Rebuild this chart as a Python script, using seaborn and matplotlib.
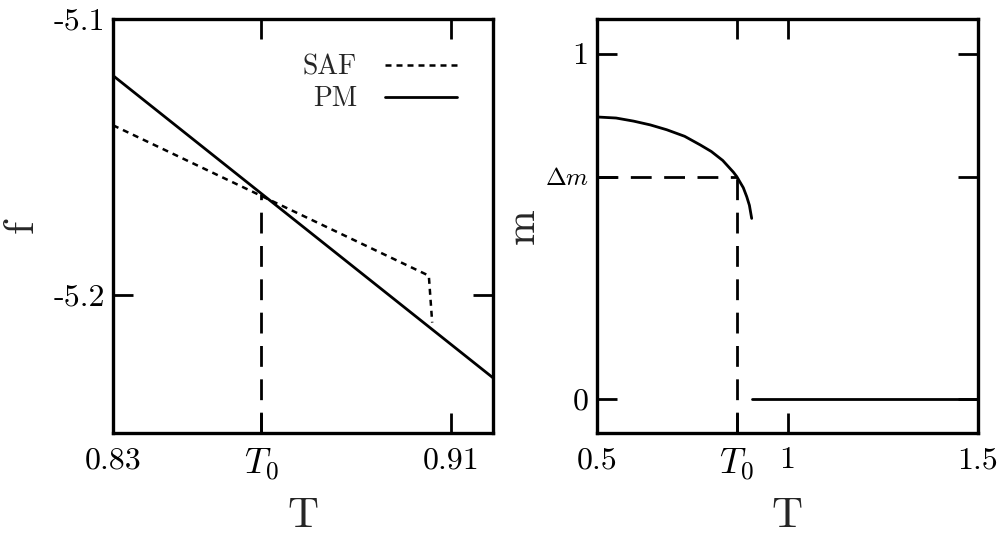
import numpy as np
import pandas as pd
import matplotlib
matplotlib.use("Agg")
import matplotlib.pyplot as plt
import seaborn as sns
from matplotlib.ticker import FixedLocator, FixedFormatter
from matplotlib.lines import Line2D

# ---------------- data ----------------
# left panel: free energy f vs T
T0_left = 0.8651
pm_T = [0.83, 0.92]
pm_f = [-5.1205, -5.2300]
saf_T = [0.83, 0.9048, 0.9056]
saf_f = [-5.1385, -5.1930, -5.2100]
left_xticks = [0.83, T0_left, 0.91]
left_xticklabels = ["0.83", "$T_0$", "0.91"]
left_yticks = [-5.1, -5.2]
left_yticklabels = ["-5.1", "-5.2"]

# right panel: magnetisation m vs T
T0_right = 0.867
dm = 0.643
m_T = [0.5, 0.55, 0.596, 0.64, 0.683, 0.73, 0.771, 0.80, 0.83, 0.858, 0.867, 0.884, 0.893, 0.900, 0.906]
m_val = [0.816, 0.813, 0.804, 0.793, 0.779, 0.760, 0.735, 0.716, 0.690, 0.656, 0.643, 0.611, 0.585, 0.560, 0.522]
zero_T = [0.906, 1.5]
zero_m = [0.0, 0.0]
right_xticks = [0.5, T0_right, 1.0, 1.5]
right_xticklabels = ["0.5", "$T_0$", "1", "1.5"]
right_yticks = [0.0, dm, 1.0]
right_yticklabels = ["0", r"$\Delta m$", "1"]

# ---------------- style ----------------
sns.set_style("white")
plt.rcParams["font.family"] = ["cmr10", "DejaVu Serif"]
plt.rcParams["mathtext.fontset"] = "cm"
plt.rcParams["axes.unicode_minus"] = False
plt.rcParams["axes.formatter.use_mathtext"] = True

fig = plt.figure(figsize=(10.05, 5.37), dpi=100)
axL = fig.add_axes([113 / 1005, 1 - 433 / 537, 380 / 1005, 414 / 537])
axR = fig.add_axes([597 / 1005, 1 - 433 / 537, 381 / 1005, 414 / 537])

LW = 2.0
dash_style = (0, (7.5, 4.5))
dot_style = (0, (2.4, 2.0))

def line(ax, x, y, **kw):
    sns.lineplot(x=x, y=y, ax=ax, color="black", estimator=None,
                 sort=False, errorbar=None, **kw)

# ---------------- left panel ----------------
ylimL = (-5.25, -5.1)
line(axL, [T0_left, T0_left], [ylimL[0], -5.1635], lw=LW, linestyle=dash_style)
line(axL, saf_T, saf_f, lw=LW * 0.9, linestyle=dot_style)
line(axL, pm_T, pm_f, lw=LW)
axL.set_xlim(0.83, 0.92)
axL.set_ylim(*ylimL)
axL.xaxis.set_major_locator(FixedLocator(left_xticks))
axL.xaxis.set_major_formatter(FixedFormatter(left_xticklabels))
axL.yaxis.set_major_locator(FixedLocator(left_yticks))
axL.yaxis.set_major_formatter(FixedFormatter(left_yticklabels))

handles = [Line2D([], [], color="black", lw=LW * 0.9, linestyle=dot_style),
           Line2D([], [], color="black", lw=LW)]
leg = axL.legend(handles, ["SAF", "PM"], loc="upper right",
                 bbox_to_anchor=(0.905, 0.915), frameon=False, markerfirst=False,
                 fontsize=20, handlelength=2.6, handletextpad=1.0,
                 borderpad=0, borderaxespad=0, labelspacing=0.2)

# ---------------- right panel ----------------
ylimR = (-0.1, 1.1)
line(axR, [0.5, T0_right], [dm, dm], lw=LW, linestyle=dash_style)
line(axR, [T0_right, T0_right], [ylimR[0], dm], lw=LW, linestyle=dash_style)
line(axR, m_T, m_val, lw=LW)
line(axR, zero_T, zero_m, lw=LW)
axR.set_xlim(0.5, 1.5)
axR.set_ylim(*ylimR)
axR.xaxis.set_major_locator(FixedLocator(right_xticks))
axR.xaxis.set_major_formatter(FixedFormatter(right_xticklabels))
axR.yaxis.set_major_locator(FixedLocator(right_yticks))
axR.yaxis.set_major_formatter(FixedFormatter(right_yticklabels))

for ax in (axL, axR):
    for s in ax.spines.values():
        s.set_visible(True)
        s.set_linewidth(2.4)
        s.set_color("black")
    ax.tick_params(axis="both", which="major", direction="in", length=14.5,
                   width=2.0, top=True, right=True, bottom=True, left=True,
                   labelsize=23, colors="black")
    ax.tick_params(axis="x", pad=10)
    ax.tick_params(axis="y", pad=6)
    ax.set_xlabel("T", fontsize=31)
    ax.get_xticklabels()[1 if ax is axL else 1].set_fontsize(26)

axR.get_yticklabels()[1].set_fontsize(18)

axL.set_ylabel("f", fontsize=31)
axR.set_ylabel("m", fontsize=31)
axL.yaxis.set_label_coords(-0.19, 0.5)
axR.yaxis.set_label_coords(-0.145, 0.5)
axL.xaxis.set_label_coords(0.5, -0.155)
axR.xaxis.set_label_coords(0.5, -0.155)

fig.savefig("out.png", dpi=100)
